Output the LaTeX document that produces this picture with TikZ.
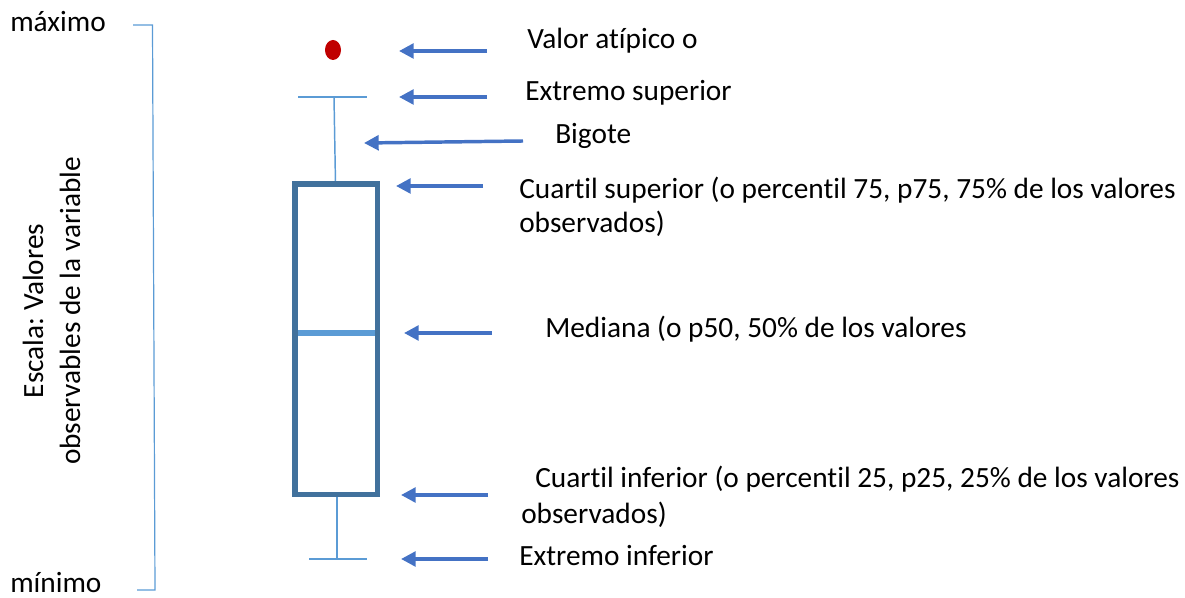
\documentclass[tikz,border=0pt]{standalone}
\usepackage{fontspec}
\setmainfont{Carlito}[Ligatures=NoCommon]
\usetikzlibrary{arrows.meta}
\definecolor{boxblue}{HTML}{41719C}
\definecolor{lightblue}{HTML}{5B9BD5}
\definecolor{arrowblue}{HTML}{4472C4}
\definecolor{outred}{HTML}{C00000}
\frenchspacing
\begin{document}
\begin{tikzpicture}[x=0.75pt,y=-0.75pt,
  lbl/.style={anchor=base west, inner sep=0pt, font=\fontsize{22}{27}\selectfont},
  vlbl/.style={anchor=base, inner sep=0pt, rotate=90, font=\fontsize{22}{27}\selectfont},
  ptr/.style={arrowblue, line width=2.6pt, -{Triangle[length=11pt,width=11pt]}},
  whisk/.style={lightblue, line width=1.1pt},
  scaleline/.style={lightblue, line width=0.9pt}]
\useasboundingbox (0,0) rectangle (1185,598);

% scale bracket and labels
\node[lbl] (max) at (10,32) {máximo};
\node[lbl] (min) at (10,592) {mínimo};
\coordinate (b1) at (133,25);
\coordinate (b2) at (152.5,25);
\coordinate (b3) at (155,590);
\coordinate (b4) at (137,590);
\draw[scaleline] (b1) -- (b2) -- (b3) -- (b4);
\node[vlbl] (esc1) at (43,311) {Escala: Valores};
\node[vlbl] (esc2) at (80,311) {observables de la variable};

% box plot
\coordinate (uc1) at (298,97);
\coordinate (uc2) at (367,97);
\coordinate (uw1) at (334,97);
\coordinate (uw2) at (335.5,184);
\coordinate (lw1) at (337,494.5);
\coordinate (lw2) at (337,559);
\coordinate (lc1) at (309,559);
\coordinate (lc2) at (367,559);
\draw[whisk] (uc1) -- (uc2);
\draw[whisk] (uw1) -- (uw2);
\draw[whisk] (lw1) -- (lw2);
\draw[whisk] (lc1) -- (lc2);
\coordinate (m1) at (297,333);
\coordinate (m2) at (376,333);
\draw[lightblue, line width=4pt] (m1) -- (m2);
\draw[boxblue, line width=4pt] (295,184) rectangle (377.5,494.5);
\fill[outred] (333,50) ellipse [x radius=6pt, y radius=7.5pt];

% labels
\node[lbl] (vat) at (527,49) {Valor atípico o};
\node[lbl] (esup) at (525,101) {Extremo superior};
\node[lbl] (big) at (555,144) {Bigote};
\node[lbl] (cs1) at (519,199) {Cuartil superior (o percentil 75, p75, 75\% de los valores};
\node[lbl] (cs2) at (519,233) {observados)};
\node[lbl] (med) at (545,338) {Mediana (o p50, 50\% de los valores};
\node[lbl] (ci1) at (535,487) {Cuartil inferior (o percentil 25, p25, 25\% de los valores};
\node[lbl] (ci2) at (521,523) {observados)};
\node[lbl] (einf) at (519,565) {Extremo inferior};

% arrows
\coordinate (t1) at (487,51);   \coordinate (h1) at (399,51);
\coordinate (t2) at (487,97);   \coordinate (h2) at (399,97);
\coordinate (t3) at (523,141);  \coordinate (h3) at (364,143);
\coordinate (t4) at (483,186);  \coordinate (h4) at (396,186);
\coordinate (t5) at (492,333);  \coordinate (h5) at (404,333);
\coordinate (t6) at (488,495);  \coordinate (h6) at (401,495);
\coordinate (t7) at (488,559);  \coordinate (h7) at (401,559);
\foreach \i in {1,...,7} {\draw[ptr] (t\i) -- (h\i);}
\end{tikzpicture}
\end{document}
